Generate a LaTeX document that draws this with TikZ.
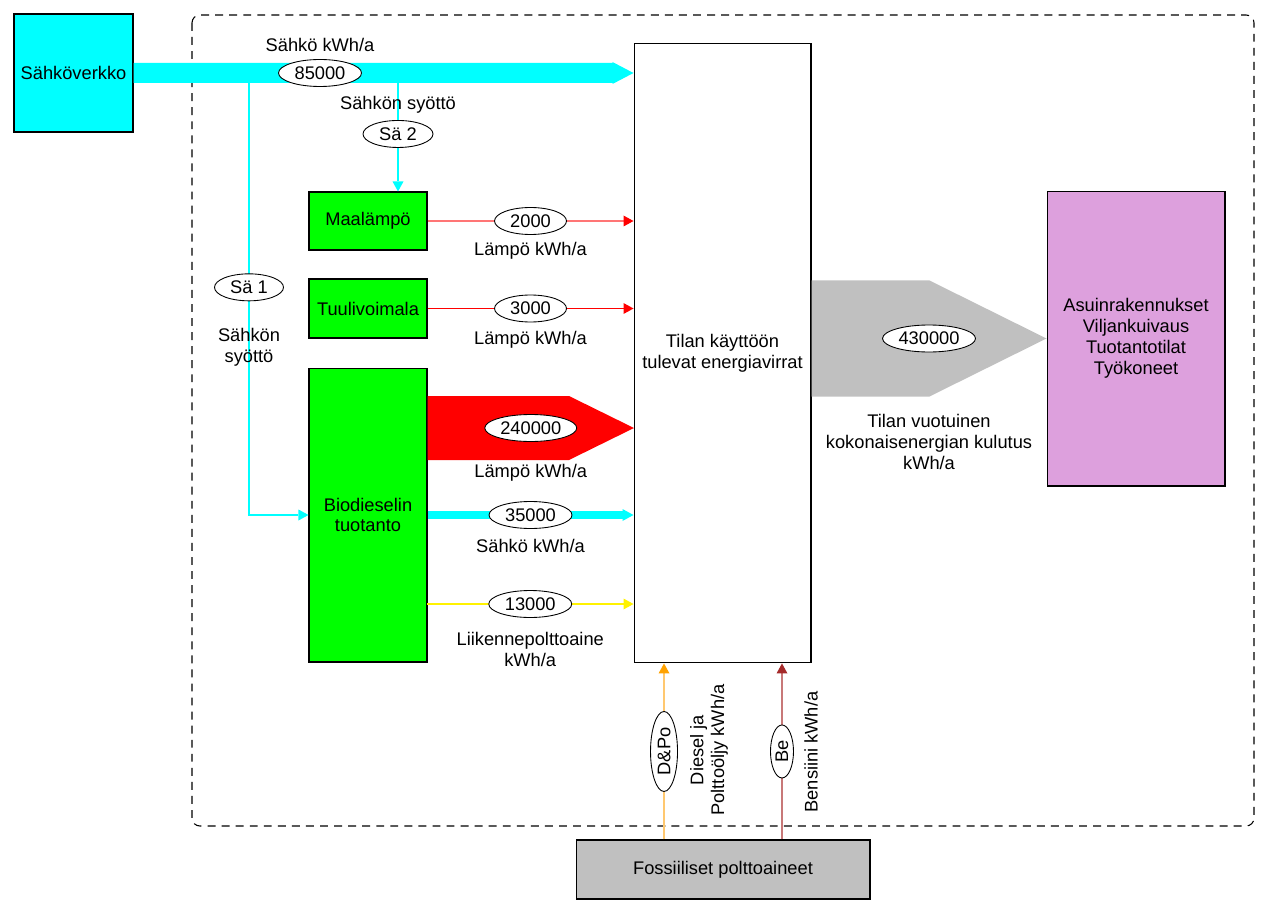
\documentclass[tikz,border=0pt]{standalone}
\usepackage{fontspec}
\setmainfont{Liberation Sans}
\usetikzlibrary{arrows.meta,calc,positioning,shapes.geometric}
\definecolor{sahko}{HTML}{00FFFF}
\definecolor{vihrea}{HTML}{00FF00}
\definecolor{lila}{HTML}{DDA0DD}
\definecolor{harmaa}{HTML}{C0C0C0}
\definecolor{vaalpuna}{HTML}{FF7575}
\definecolor{oranssi}{HTML}{FFA200}
\definecolor{vaaloranssi}{HTML}{FFC870}
\definecolor{ruskea}{HTML}{A52A2A}
\definecolor{vaalruskea}{HTML}{C87878}
\begin{document}
\begin{tikzpicture}[
                    x=0.02cm,
                    y=-0.02cm,
                    font=\fontsize{10.4}{11.9}\selectfont,
                    box/.style={draw, line width=0.6pt, align=center, inner sep=0pt},
                    lbl/.style={ellipse, draw, fill=white, line width=0.5pt, inner sep=0pt, minimum height=0.54cm},
                    txt/.style={align=center, inner sep=0pt},
                    flow/.style 2 args={draw=#1, line width=0.85pt,
                        -{Triangle[length=0.2cm, width=0.22cm, line width=0pt, color=#2]}}
                ]
                \useasboundingbox (0,0) rectangle (1273,915);
                % tilan raja
                \draw[dash pattern=on 4.5pt off 3.5pt, line width=0.6pt, rounded corners=4.5pt]
                    (192,15) rectangle (1254,826);

                \node (verkko) [box, fill=sahko, minimum width=2.38cm, minimum height=2.36cm] at (73.5,73) {Sähköverkko};
                \node (kaytto) [box, fill=white, minimum width=3.54cm, minimum height=12.4cm] at (722.5,353) {Tilan käyttöön\\tulevat energiavirrat};
                \node (maa) [box, fill=vihrea, minimum width=2.36cm, minimum height=1.16cm] at (368,221) {Maalämpö};
                \node (tuuli) [box, fill=vihrea, minimum width=2.36cm, minimum height=1.18cm] at (368,308.5) {Tuulivoimala};
                \node (bio) [box, fill=vihrea, minimum width=2.36cm, minimum height=5.88cm] at (368,515) {Biodieselin\\tuotanto};
                \node (kulutus) [box, fill=lila, minimum width=3.56cm, minimum height=5.9cm] at (1136,338.5) {Asuinrakennukset\\Viljankuivaus\\Tuotantotilat\\Työkoneet};
                \node (fossiili) [box, fill=harmaa, minimum width=5.88cm, minimum height=1.18cm] at (723,869.5) {Fossiiliset polttoaineet};

                \coordinate (sahkotip) at (kaytto.west|-verkko.east);
                \coordinate (sa2) at (398,83);
                \coordinate (sa1) at (249,83);
                \coordinate (lampotip) at (634,428);
                \coordinate (lampoalku) at (bio.east|-lampotip);
                \coordinate (liike) at (427,604);
                \coordinate (kulualku) at (kaytto.east|-kulutus.west);
                \coordinate (dalku) at ([xshift=-1.18cm]fossiili.north);
                \coordinate (balku) at ([xshift=1.18cm]fossiili.north);

                % leveat nuolet
                \fill[sahko] ($(verkko.east)+(0,-10)$) -- ($(sahkotip)+(-21,-10)$) -- ($(sahkotip)+(-21,-11)$)
                    -- (sahkotip) -- ($(sahkotip)+(-21,11)$) -- ($(sahkotip)+(-21,10)$) -- ($(verkko.east)+(0,10)$) -- cycle;
                \fill[red] ($(lampoalku)+(0,-32)$) -- ($(lampotip)+(-65,-32)$) -- (lampotip)
                    -- ($(lampotip)+(-65,32)$) -- ($(lampoalku)+(0,32)$) -- cycle;
                \fill[harmaa] ($(kulualku)+(0,-58)$) -- ($(kulutus.west)+(-117,-58)$) -- (kulutus.west)
                    -- ($(kulutus.west)+(-117,58)$) -- ($(kulualku)+(0,58)$) -- cycle;

                \path
                (sa2) edge[flow={sahko}{sahko}] (sa2|-maa.north)
                (maa.east) edge[flow={vaalpuna}{red}] (kaytto.west|-maa.east)
                (tuuli.east) edge[flow={red}{red}] (kaytto.west|-tuuli.east)
                (bio.east) edge[flow={sahko}{sahko}, line width=5pt,
                    -{Triangle[length=0.22cm, width=0.24cm, line width=0pt, color=sahko]}] (kaytto.west|-bio.east)
                (liike) edge[flow={yellow}{yellow}, line width=1.1pt] (kaytto.west|-liike)
                (dalku) edge[flow={vaaloranssi}{oranssi}] (dalku|-kaytto.south)
                (balku) edge[flow={vaalruskea}{ruskea}] (balku|-kaytto.south)
                ;
                \draw[flow={sahko}{sahko}] (sa1) |- (bio.west);

                % tunnukset
                \path (verkko.east) -- node[lbl, pos=0.373, minimum width=1.66cm] {85000}
                    node[txt, pos=0.373, yshift=0.56cm] {Sähkö kWh/a} (sahkotip);
                \path (sa2) -- node[txt, pos=0.2] {Sähkön syöttö}
                    node[lbl, pos=0.47, minimum width=1.4cm] {Sä 2} (sa2|-maa.north);
                \path (sa1) -- node[lbl, pos=0.473, minimum width=1.38cm] {Sä 1}
                    node[txt, pos=0.611] {Sähkön\\syöttö} (sa1|-bio.west);
                \path (maa.east) -- node[lbl, minimum width=1.44cm] {2000}
                    node[txt, yshift=-0.6cm] {Lämpö kWh/a} (kaytto.west|-maa.east);
                \path (tuuli.east) -- node[lbl, minimum width=1.44cm] {3000}
                    node[txt, yshift=-0.62cm] {Lämpö kWh/a} (kaytto.west|-tuuli.east);
                \path (lampoalku) -- node[lbl, minimum width=1.84cm] {240000}
                    node[txt, yshift=-0.9cm] {Lämpö kWh/a} (lampotip);
                \path (bio.east) -- node[lbl, minimum width=1.66cm] {35000}
                    node[txt, yshift=-0.62cm] {Sähkö kWh/a} (kaytto.west|-bio.east);
                \path (liike) -- node[lbl, minimum width=1.66cm] {13000}
                    node[txt, yshift=-0.91cm] {Liikennepolttoaine\\kWh/a} (kaytto.west|-liike);
                \path (kulualku) -- node[lbl, minimum width=1.86cm] {430000}
                    node[txt, yshift=-2.07cm] {Tilan vuotuinen\\kokonaisenergian kulutus\\kWh/a} (kulutus.west);
                \path (dalku) -- node[lbl, rotate=90, minimum width=1.6cm] {D\&Po} (dalku|-kaytto.south);
                \path (balku) -- node[lbl, rotate=90, minimum width=1.06cm, minimum height=0.46cm] {Be} (balku|-kaytto.south);
                \node (diesel) [txt, rotate=90] at (709,750) {Diesel ja\\Polttoöljy kWh/a};
                \node (bensiini) [txt, rotate=90] at (811,752) {Bensiini kWh/a};
            \end{tikzpicture}
\end{document}
